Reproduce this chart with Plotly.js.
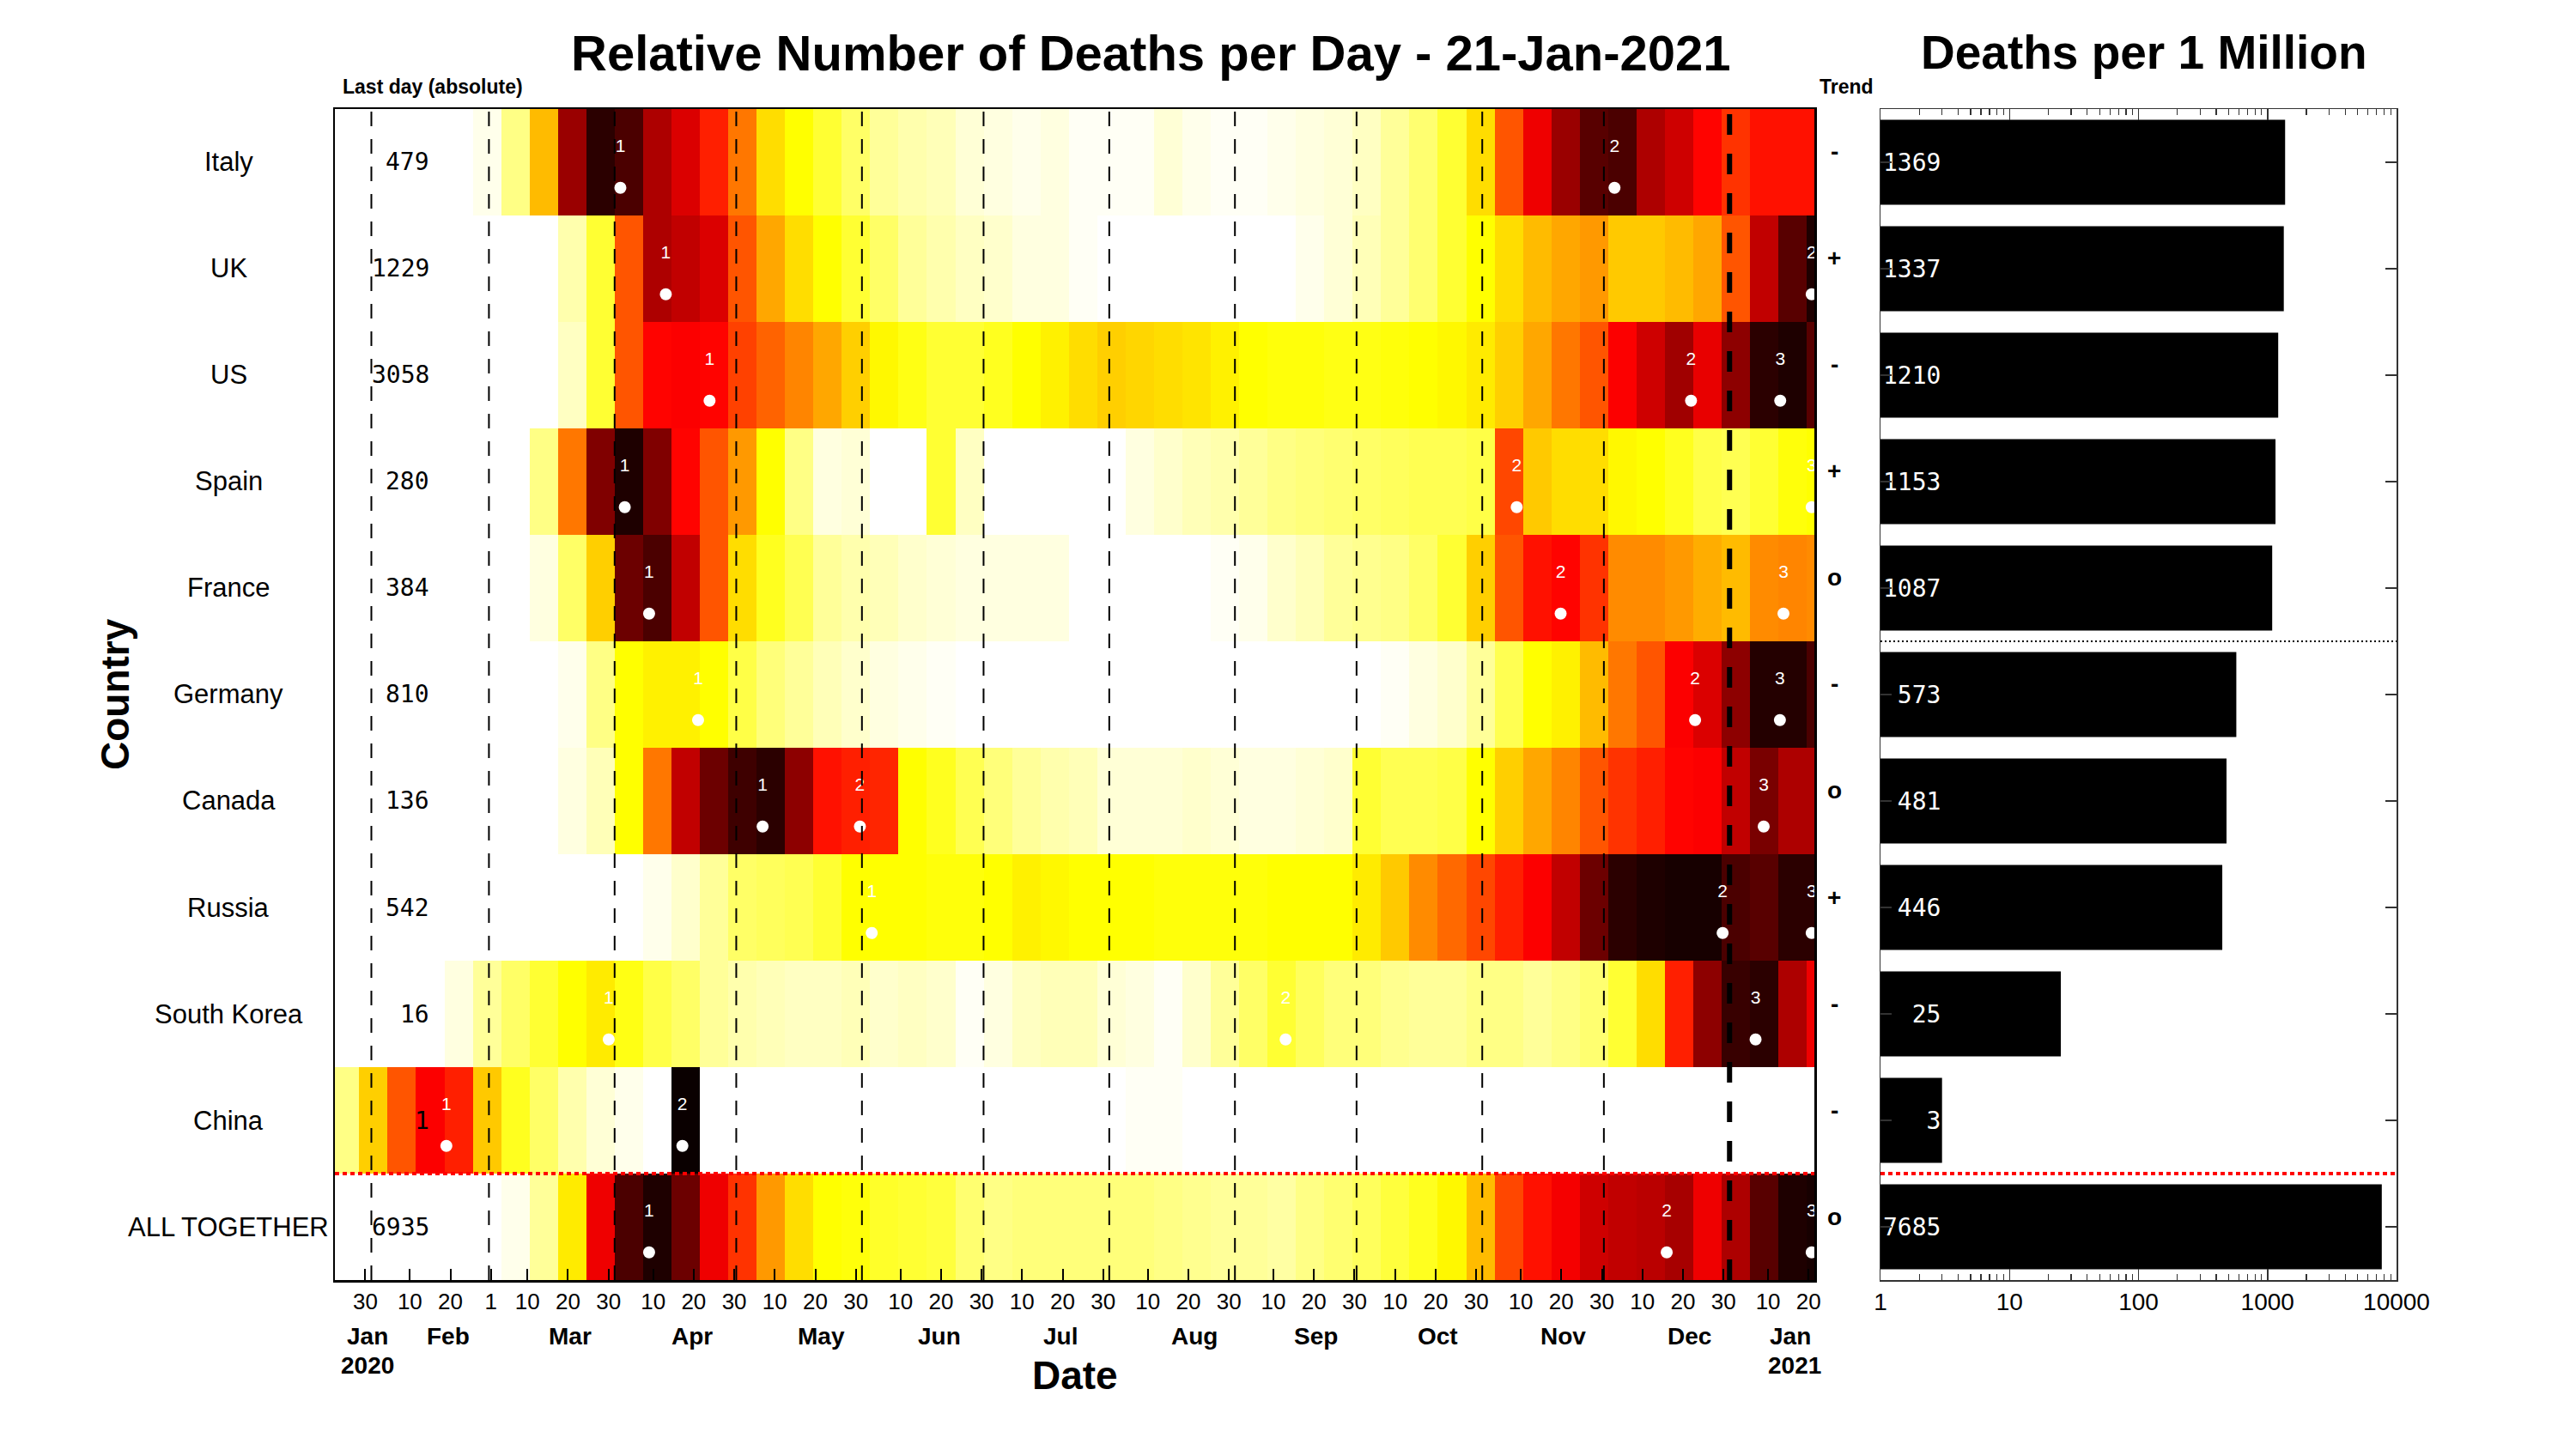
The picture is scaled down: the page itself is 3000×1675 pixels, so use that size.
<!DOCTYPE html>
<html>
<head>
<meta charset="utf-8">
<script src="https://cdn.plot.ly/plotly-3.0.1.min.js"></script>
<style>html,body{margin:0;padding:0;background:#fff}#chart{width:3000px;height:1675px}</style>
</head>
<body>
<div id="chart"></div>
<script>
// ---------------- data ----------------
const countries = ['Italy','UK','US','Spain','France','Germany','Canada','Russia','South Korea','China','ALL TOGETHER'];
const binStart = '2020-01-22';   // weekly bins (7 days)
const binDays = 7;

const italy   = [0,0,0,0,0,0.02,0.12,0.35,0.78,0.95,0.9,0.75,0.68,0.58,0.45,0.3,0.25,0.2,0.15,0.1,0.08,0.07,0.04,0.03,0.02,0.03,0.01,0.01,0.01,0.04,0.02,0.01,0.01,0.02,0.03,0.04,0.06,0.1,0.14,0.2,0.3,0.5,0.65,0.78,0.88,0.9,0.75,0.7,0.62,0.55,0.6,0.6,0.6];
const uk      = [0,0,0,0,0,0,0,0,0.08,0.2,0.5,0.75,0.72,0.68,0.5,0.38,0.3,0.25,0.2,0.15,0.1,0.08,0.06,0.05,0.03,0.03,0.01,0,0,0,0,0,0,0,0.02,0.04,0.07,0.1,0.14,0.2,0.25,0.3,0.35,0.38,0.4,0.33,0.33,0.35,0.38,0.5,0.72,0.88,0.97];
const us      = [0,0,0,0,0,0,0,0,0.06,0.2,0.5,0.62,0.63,0.62,0.53,0.48,0.43,0.38,0.32,0.26,0.23,0.2,0.2,0.22,0.25,0.27,0.3,0.32,0.31,0.3,0.29,0.27,0.25,0.24,0.24,0.23,0.23,0.24,0.25,0.26,0.28,0.32,0.38,0.45,0.5,0.63,0.7,0.77,0.66,0.8,0.95,0.97,0.88];
const spain   = [0,0,0,0,0,0,0,0.12,0.45,0.82,0.97,0.82,0.62,0.5,0.4,0.25,0.12,0.03,0.04,0,0,0.2,0.06,0,0,0,0,0,0.03,0.05,0.07,0.08,0.1,0.12,0.13,0.14,0.15,0.16,0.17,0.17,0.18,0.52,0.33,0.3,0.3,0.26,0.25,0.22,0.18,0.17,0.2,0.24,0.25];
const france  = [0,0,0,0,0,0,0,0.03,0.15,0.32,0.85,0.9,0.72,0.5,0.3,0.22,0.17,0.1,0.08,0.07,0.05,0.04,0.03,0.03,0.03,0.03,0,0,0,0,0,0.01,0.02,0.05,0.07,0.1,0.11,0.12,0.15,0.2,0.32,0.5,0.6,0.62,0.55,0.42,0.42,0.4,0.37,0.35,0.42,0.43,0.42];
const germany = [0,0,0,0,0,0,0,0,0.02,0.12,0.25,0.27,0.27,0.25,0.18,0.13,0.1,0.07,0.05,0.03,0.02,0.01,0,0,0,0,0,0,0,0,0,0,0,0,0,0,0,0.01,0.03,0.05,0.1,0.17,0.25,0.27,0.35,0.45,0.5,0.63,0.68,0.8,0.96,0.96,0.9];
const canada  = [0,0,0,0,0,0,0,0,0.03,0.07,0.25,0.45,0.72,0.85,0.92,0.95,0.8,0.6,0.58,0.57,0.25,0.22,0.17,0.13,0.1,0.08,0.07,0.04,0.04,0.04,0.05,0.04,0.03,0.03,0.04,0.05,0.2,0.17,0.17,0.18,0.25,0.32,0.38,0.43,0.5,0.55,0.58,0.62,0.63,0.72,0.83,0.75,0.75];
const russia  = [0,0,0,0,0,0,0,0,0,0,0,0.02,0.05,0.1,0.15,0.16,0.17,0.2,0.25,0.25,0.25,0.24,0.24,0.25,0.27,0.26,0.25,0.25,0.25,0.24,0.24,0.24,0.24,0.25,0.25,0.25,0.28,0.33,0.42,0.47,0.52,0.58,0.63,0.72,0.85,0.95,0.97,0.98,0.98,0.9,0.88,0.95,0.95];
const korea   = [0,0,0,0,0.03,0.1,0.15,0.2,0.25,0.28,0.23,0.18,0.15,0.1,0.08,0.07,0.06,0.06,0.07,0.05,0.06,0.05,0.01,0.03,0.06,0.07,0.07,0.04,0.03,0.01,0.05,0.1,0.15,0.2,0.16,0.13,0.13,0.11,0.1,0.1,0.12,0.12,0.1,0.12,0.14,0.2,0.3,0.58,0.8,0.93,0.95,0.75,0.65];
const china   = [0.12,0.32,0.5,0.63,0.58,0.33,0.22,0.15,0.08,0.04,0.02,0,1.0,0,0,0,0,0,0,0,0,0,0,0,0,0,0,0,0.01,0.01,0,0,0,0,0,0,0,0,0,0,0,0,0,0,0,0,0,0,0,0,0,0,0];
const allTogether = [0,0,0,0,0,0,0.02,0.1,0.28,0.65,0.9,0.97,0.85,0.65,0.55,0.4,0.3,0.25,0.24,0.21,0.2,0.19,0.14,0.12,0.13,0.13,0.13,0.13,0.13,0.12,0.11,0.1,0.1,0.09,0.12,0.14,0.16,0.19,0.22,0.26,0.35,0.52,0.6,0.64,0.7,0.72,0.73,0.76,0.65,0.75,0.88,0.97,0.98];

const lastDay    = [479,1229,3058,280,384,810,136,542,16,1,6935];
const trend      = ['-','+','-','+','o','-','o','+','-','-','o'];
const perMillion = [1369,1337,1210,1153,1087,573,481,446,25,3,7685];

const peakRow   = [0,0, 1,1, 2,2,2, 3,3,3, 4,4,4, 5,5,5, 6,6,6, 7,7,7, 8,8,8, 9,9, 10,10,10];
const peakLabel = ['1','2','1','2','1','2','3','1','2','3','1','2','3','1','2','3','1','2','3','1','2','3','1','2','3','1','2','1','2','3'];
const peakDate  = [
  '2020-04-02 10:00','2020-12-03 15:00',
  '2020-04-13 15:00','2021-01-21 06:00',
  '2020-04-24 10:00','2020-12-22 12:00','2021-01-13 12:00',
  '2020-04-03 12:00','2020-11-09 12:00','2021-01-21 06:00',
  '2020-04-09 12:00','2020-11-20 08:00','2021-01-14 07:00',
  '2020-04-21 14:00','2020-12-23 12:00','2021-01-13 10:00',
  '2020-05-07 12:00','2020-05-31 12:00','2021-01-09 10:00',
  '2020-06-03 10:00','2020-12-30 07:00','2021-01-21 06:00',
  '2020-03-30 13:00','2020-09-13 12:00','2021-01-07 10:00',
  '2020-02-19 12:00','2020-04-17 17:00',
  '2020-04-09 12:00','2020-12-16 12:00','2021-01-21 06:00'
];

const dayTickDates = ['2020-01-30','2020-02-10','2020-02-20','2020-03-01','2020-03-10','2020-03-20','2020-03-30',
  '2020-04-10','2020-04-20','2020-04-30','2020-05-10','2020-05-20','2020-05-30','2020-06-10','2020-06-20','2020-06-30',
  '2020-07-10','2020-07-20','2020-07-30','2020-08-10','2020-08-20','2020-08-30','2020-09-10','2020-09-20','2020-09-30',
  '2020-10-10','2020-10-20','2020-10-30','2020-11-10','2020-11-20','2020-11-30','2020-12-10','2020-12-20','2020-12-30',
  '2021-01-10','2021-01-20'];
const dayTickText = dayTickDates.map(d => String(parseInt(d.slice(8,10),10)));

const monthLabelDates = ['2020-01-31','2020-02-20','2020-03-21','2020-04-20','2020-05-22','2020-06-20','2020-07-20','2020-08-22','2020-09-21','2020-10-21','2020-11-21','2020-12-22','2021-01-16'];
const monthLabelText  = ['Jan','Feb','Mar','Apr','May','Jun','Jul','Aug','Sep','Oct','Nov','Dec','Jan'];
const yearLabelDates  = ['2020-01-31','2021-01-17'];
const yearLabelText   = ['2020','2021'];

const monthLines = ['2020-02-01','2020-03-01','2020-04-01','2020-05-01','2020-06-01','2020-07-01','2020-08-01','2020-09-01','2020-10-01','2020-11-01','2020-12-01'];
const yearLines  = ['2021-01-01'];

const barTicks = [1,10,100,1000,10000];
const barTickText = ['1','10','100','1000','10000'];

// ---------------- helpers ----------------
const W = 3000, H = 1675;
const px = x => x / W;
const py = y => 1 - y / H;
const FONT = 'Liberation Sans, Arial, Helvetica, sans-serif';
const MONO = 'DejaVu Sans Mono, Liberation Mono, monospace';

const rows = [italy, uk, us, spain, france, germany, canada, russia, korea, china, allTogether];
const nBins = rows[0].length;
const edges = [];
{
  const t0 = Date.parse(binStart + 'T00:00:00Z');
  for (let k = 0; k <= nBins; k++) {
    edges.push(new Date(t0 + k * binDays * 86400000).toISOString().slice(0,10));
  }
}
const rowIdx = countries.map((_, i) => i);

const xDom = [px(390), px(2113)];
const yDom = [py(1491), py(127)];
const x2Dom = [px(2190), px(2791)];

const hotRev = [[0,'rgb(255,255,255)'],[0.25,'rgb(255,255,0)'],[0.625,'rgb(255,0,0)'],[1,'rgb(10,0,0)']];

const minorVals = [];
[1,10,100,1000].forEach(d => { for (let m = 2; m <= 9; m++) minorVals.push(m*d); });

// ---------------- traces ----------------
const traces = [
  {
    type: 'heatmap', x: edges, y: rowIdx, z: rows,
    zmin: 0, zmax: 1, colorscale: hotRev, showscale: false,
    hoverinfo: 'skip', xaxis: 'x', yaxis: 'y'
  },
  {
    type: 'scatter', mode: 'markers', x: peakDate, y: peakRow.map(r => r + 0.24),
    marker: {color: '#ffffff', size: 14, line: {width: 0}},
    cliponaxis: true, hoverinfo: 'skip', xaxis: 'x', yaxis: 'y', showlegend: false
  },
  {
    type: 'scatter', mode: 'text', x: peakDate, y: peakRow.map(r => r - 0.14),
    text: peakLabel, textposition: 'middle center',
    textfont: {color: '#ffffff', size: 21, family: FONT},
    cliponaxis: true, hoverinfo: 'skip', xaxis: 'x', yaxis: 'y', showlegend: false
  },
  {
    type: 'bar', orientation: 'h', x: perMillion, y: rowIdx, width: 0.8,
    marker: {color: '#000000', line: {width: 0}},
    text: perMillion.map(v => String(v).padStart(4, '\u00a0')),
    textposition: 'inside', insidetextanchor: 'start', textangle: 0,
    constraintext: 'none',
    insidetextfont: {color: '#ffffff', size: 28, family: MONO},
    hoverinfo: 'skip', xaxis: 'x2', yaxis: 'y2', showlegend: false
  }
];

// ---------------- shapes ----------------
const shapes = [];
monthLines.forEach(d => shapes.push({
  type: 'line', xref: 'x', yref: 'paper', x0: d, x1: d, y0: yDom[0], y1: yDom[1],
  line: {color: '#000', width: 2, dash: '17px,15px'}, layer: 'above'
}));
yearLines.forEach(d => shapes.push({
  type: 'line', xref: 'x', yref: 'paper', x0: d, x1: d, y0: yDom[0], y1: yDom[1],
  line: {color: '#000', width: 6, dash: '24px,22px'}, layer: 'above'
}));
shapes.push({type: 'line', xref: 'x domain', yref: 'y', x0: 0, x1: 1, y0: 9.5, y1: 9.5,
  line: {color: '#ff0000', width: 4, dash: '5px,4px'}, layer: 'above'});
shapes.push({type: 'line', xref: 'x2 domain', yref: 'y2', x0: 0, x1: 1, y0: 9.5, y1: 9.5,
  line: {color: '#ff0000', width: 4, dash: '5px,4px'}, layer: 'above'});
shapes.push({type: 'line', xref: 'x2 domain', yref: 'y2', x0: 0, x1: 1, y0: 4.5, y1: 4.5,
  line: {color: '#000000', width: 2, dash: '2px,3px'}, layer: 'above'});

// ---------------- annotations ----------------
const ann = [];
ann.push({xref: 'paper', yref: 'paper', x: px(1340), y: py(61), xanchor: 'center', yanchor: 'middle',
  text: '<b>Relative Number of Deaths per Day - 21-Jan-2021</b>', showarrow: false,
  font: {family: FONT, size: 58, color: '#000'}});
ann.push({xref: 'paper', yref: 'paper', x: px(2497), y: py(61), xanchor: 'center', yanchor: 'middle',
  text: '<b>Deaths per 1 Million</b>', showarrow: false,
  font: {family: FONT, size: 55, color: '#000'}});
ann.push({xref: 'paper', yref: 'paper', x: px(397), y: py(101), xanchor: 'left', yanchor: 'middle',
  text: '<b>Last day (absolute)</b>', showarrow: false, font: {family: FONT, size: 23, color: '#000'}});
ann.push({xref: 'paper', yref: 'paper', x: px(2117), y: py(101), xanchor: 'left', yanchor: 'middle',
  text: '<b>Trend</b>', showarrow: false, font: {family: FONT, size: 23, color: '#000'}});
ann.push({xref: 'paper', yref: 'paper', x: px(134), y: py(809), xanchor: 'center', yanchor: 'middle',
  text: '<b>Country</b>', textangle: -90, showarrow: false, font: {family: FONT, size: 46, color: '#000'}});
ann.push({xref: 'paper', yref: 'paper', x: px(1252), y: py(1602), xanchor: 'center', yanchor: 'middle',
  text: '<b>Date</b>', showarrow: false, font: {family: FONT, size: 46, color: '#000'}});

countries.forEach((c, i) => {
  ann.push({xref: 'paper', yref: 'y', x: px(266), y: i, xanchor: 'center', yanchor: 'middle',
    text: c, showarrow: false, font: {family: FONT, size: 31, color: '#000'}});
  ann.push({xref: 'paper', yref: 'y', x: px(502), y: i, xanchor: 'right', yanchor: 'middle',
    text: String(lastDay[i]), showarrow: false, font: {family: MONO, size: 28, color: '#000'}});
  ann.push({xref: 'paper', yref: 'y', x: px(2136), y: i, yshift: 12, xanchor: 'center', yanchor: 'middle',
    text: '<b>' + trend[i] + '</b>', showarrow: false, font: {family: FONT, size: 28, color: '#000'}});
});
monthLabelDates.forEach((d, i) => ann.push({xref: 'x', yref: 'paper', x: d, y: py(1556), xanchor: 'center', yanchor: 'middle',
  text: '<b>' + monthLabelText[i] + '</b>', showarrow: false, font: {family: FONT, size: 28, color: '#000'}}));
yearLabelDates.forEach((d, i) => ann.push({xref: 'x', yref: 'paper', x: d, y: py(1590), xanchor: 'center', yanchor: 'middle',
  text: '<b>' + yearLabelText[i] + '</b>', showarrow: false, font: {family: FONT, size: 28, color: '#000'}}));

// ---------------- layout ----------------
const layout = {
  width: W, height: H,
  margin: {l: 0, r: 0, t: 0, b: 0, pad: 0},
  paper_bgcolor: '#ffffff', plot_bgcolor: '#ffffff',
  showlegend: false, hovermode: false,
  font: {family: FONT, color: '#000'},
  xaxis: {
    domain: xDom, anchor: 'y', type: 'date',
    range: ['2020-01-23 00:00', '2021-01-21 22:00'],
    tickmode: 'array', tickvals: dayTickDates.map(d => d + ' 12:00'), ticktext: dayTickText,
    ticks: 'inside', ticklen: 13, tickwidth: 2, tickcolor: '#000',
    tickfont: {family: FONT, size: 26, color: '#000'},
    showline: true, linecolor: '#000', linewidth: 2.5, mirror: true,
    showgrid: false, zeroline: false
  },
  yaxis: {
    domain: yDom, anchor: 'x', range: [10.5, -0.5],
    showticklabels: false, ticks: '',
    showline: true, linecolor: '#000', linewidth: 2.5, mirror: true,
    showgrid: false, zeroline: false
  },
  xaxis2: {
    domain: x2Dom, anchor: 'y2', type: 'log', range: [0, 4],
    tickmode: 'array', tickvals: barTicks, ticktext: barTickText,
    ticks: 'inside', ticklen: 13, tickwidth: 1.5, tickcolor: '#333',
    minor: {ticks: 'inside', ticklen: 7, tickwidth: 1.2, tickcolor: '#333', tickmode: 'array', tickvals: minorVals, showgrid: false},
    tickfont: {family: FONT, size: 28, color: '#000'},
    showline: true, linecolor: '#333', linewidth: 1.5, mirror: 'ticks',
    showgrid: false, zeroline: false
  },
  yaxis2: {
    domain: yDom, anchor: 'x2', range: [10.5, -0.5],
    tickmode: 'array', tickvals: rowIdx, showticklabels: false,
    ticks: 'inside', ticklen: 13, tickwidth: 1.2, tickcolor: '#333',
    showline: true, linecolor: '#333', linewidth: 1.5, mirror: 'ticks',
    showgrid: false, zeroline: false
  },
  shapes: shapes,
  annotations: ann
};

Plotly.newPlot('chart', traces, layout, {staticPlot: true, displayModeBar: false});
</script>
</body>
</html>
